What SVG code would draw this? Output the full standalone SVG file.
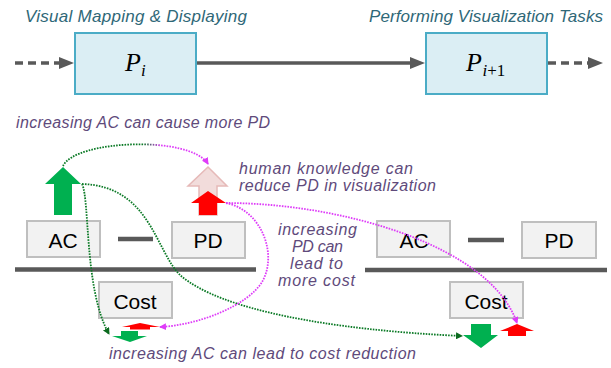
<svg xmlns="http://www.w3.org/2000/svg" width="611" height="368" viewBox="0 0 611 368">
<style>
.title{font-family:"Liberation Sans",Arial,sans-serif;font-style:italic;font-size:17px;fill:#2f6878}
.note{font-family:"Liberation Sans",Arial,sans-serif;font-style:italic;font-size:16px;fill:#604a7b}
.lbl{font-family:"Liberation Sans",Arial,sans-serif;font-size:21px;fill:#000;text-anchor:middle}
.math{font-family:"Liberation Serif","Times New Roman",serif;fill:#000}
.pbox{fill:#dbeef4;stroke:#4bacc6;stroke-width:2}
.gbox{fill:#f2f2f2;stroke:#bfbfbf;stroke-width:2}
.main{stroke:#595959;stroke-width:3.5;fill:none}
.dash{stroke-dasharray:8 5}
.bar{stroke:#595959;stroke-width:4.5;fill:none}
.dot{fill:none;stroke-width:1.8;stroke-dasharray:1.6 1.2}
.g{stroke:#0b7a26}
.m{stroke:#de3cf8}
.up{fill:#00b050}
.red{fill:#ff0000}
</style>
<defs>
<marker id="ah" markerUnits="userSpaceOnUse" markerWidth="15" markerHeight="12" refX="2" refY="6" orient="auto"><path d="M0,0 L15,6 L0,12 z" fill="#595959"/></marker>
<marker id="ag" markerUnits="userSpaceOnUse" markerWidth="7" markerHeight="7" refX="6" refY="3.5" orient="auto"><path d="M0,0 L7,3.5 L0,7 z" fill="#0b6a1e"/></marker>
<marker id="am" markerUnits="userSpaceOnUse" markerWidth="7" markerHeight="7" refX="6" refY="3.5" orient="auto"><path d="M0,0 L7,3.5 L0,7 z" fill="#de3cf8"/></marker>
<linearGradient id="gm" gradientUnits="userSpaceOnUse" x1="63" y1="0" x2="208" y2="0">
<stop offset="0" stop-color="#0b7a26"/><stop offset="0.55" stop-color="#0b7a26"/><stop offset="0.68" stop-color="#de3cf8"/><stop offset="1" stop-color="#de3cf8"/>
</linearGradient>
</defs>

<g id="titles">
<text class="title" x="25" y="22" textLength="222">Visual Mapping &amp; Displaying</text>
<text class="title" x="369" y="22" textLength="234">Performing Visualization Tasks</text>
</g>

<g id="flow">
<line class="main dash" x1="15" y1="63" x2="61" y2="63" marker-end="url(#ah)"/>
<line class="main" x1="196" y1="63" x2="412" y2="63" marker-end="url(#ah)"/>
<line class="main dash" x1="548" y1="63" x2="590" y2="63" marker-end="url(#ah)"/>
</g>

<g id="node-pi">
<rect class="pbox" x="75" y="33" width="121" height="61"/>
<text class="math" x="125" y="71" font-size="26" font-style="italic">P</text>
<text class="math" x="141" y="76" font-size="17" font-style="italic">i</text>
</g>
<g id="node-pi1">
<rect class="pbox" x="426" y="33" width="121" height="61"/>
<text class="math" x="466" y="71" font-size="26" font-style="italic">P</text>
<text class="math" x="482.5" y="76" font-size="17"><tspan font-style="italic">i</tspan>+1</text>
</g>

<g id="notes">
<text class="note" x="16" y="128" textLength="254">increasing AC can cause more PD</text>
<text class="note" x="239" y="174" textLength="174">human knowledge can</text>
<text class="note" x="239" y="191" textLength="197">reduce PD in visualization</text>
<text class="note" x="278" y="235" textLength="79">increasing</text>
<text class="note" x="292" y="252" textLength="51">PD can</text>
<text class="note" x="290" y="269" textLength="53">lead to</text>
<text class="note" x="278" y="286" textLength="77">more cost</text>
<text class="note" x="109" y="359" textLength="307">increasing AC can lead to cost reduction</text>
</g>

<g id="node-ac-left">
<rect class="gbox" x="27" y="221" width="73" height="36"/>
<text class="lbl" x="63" y="248">AC</text>
</g>
<g id="minus-left"><line class="bar" x1="118" y1="239" x2="153" y2="239"/></g>
<g id="node-pd-left">
<rect class="gbox" x="172" y="222" width="73" height="36"/>
<text class="lbl" x="208" y="248">PD</text>
</g>
<g id="fraction-left"><line class="bar" x1="15" y1="269.5" x2="256" y2="269.5"/></g>
<g id="node-cost-left">
<rect class="gbox" x="99" y="282" width="73" height="36"/>
<text class="lbl" x="135" y="309">Cost</text>
</g>

<g id="node-ac-right">
<rect class="gbox" x="377" y="221" width="73" height="36"/>
<text class="lbl" x="414" y="248">AC</text>
</g>
<g id="minus-right"><line class="bar" x1="468" y1="240" x2="504" y2="240"/></g>
<g id="node-pd-right">
<rect class="gbox" x="522" y="222" width="74" height="36"/>
<text class="lbl" x="559" y="248">PD</text>
</g>
<g id="fraction-right"><line class="bar" x1="365" y1="270" x2="607" y2="270"/></g>
<g id="node-cost-right">
<rect class="gbox" x="450" y="282" width="73" height="36"/>
<text class="lbl" x="486" y="309">Cost</text>
</g>

<g id="indicator-arrows">
<polygon class="up" points="63,167 81,184 72,184 72,215 54,215 54,184 45,184"/>
<polygon points="208,167 227,186 217,186 217,215 199,215 199,186 188,186" fill="#f2dcdb" stroke="#e6b9b8" stroke-width="1.5"/>
<polygon class="red" points="208,191 226,203 217,203 217,215 199,215 199,203 191,203"/>
<polygon class="red" points="140,323 160,327 150,327 150,329.5 130,329.5 130,327 122,327"/>
<polygon class="up" points="121,331 138,331 138,336 147,336 130,342 112,336 121,336"/>
<polygon class="up" points="471,324 491,324 491,335 498,335 481,348 463,335 471,335"/>
<polygon class="red" points="517,324 534,331 526,331 526,336 508,336 508,331 500,331"/>
</g>

<g id="connectors">
<path class="dot" stroke="url(#gm)" d="M63,166 C75,140 190,135 208,164" marker-end="url(#am)"/>
<path class="dot g" d="M82,184 C90,200 84,290 109,334" marker-end="url(#ag)"/>
<path class="dot g" d="M82,184 C150,186 155,250 180,275 C220,310 330,330 462,336" marker-end="url(#ag)"/>
<path class="dot m" d="M226,203 C340,203 490,245 517,323" marker-end="url(#am)"/>
<path class="dot m" d="M226,203 C262,210 278,255 262,282 C248,305 200,325 160,327" marker-end="url(#am)"/>
</g>
</svg>
